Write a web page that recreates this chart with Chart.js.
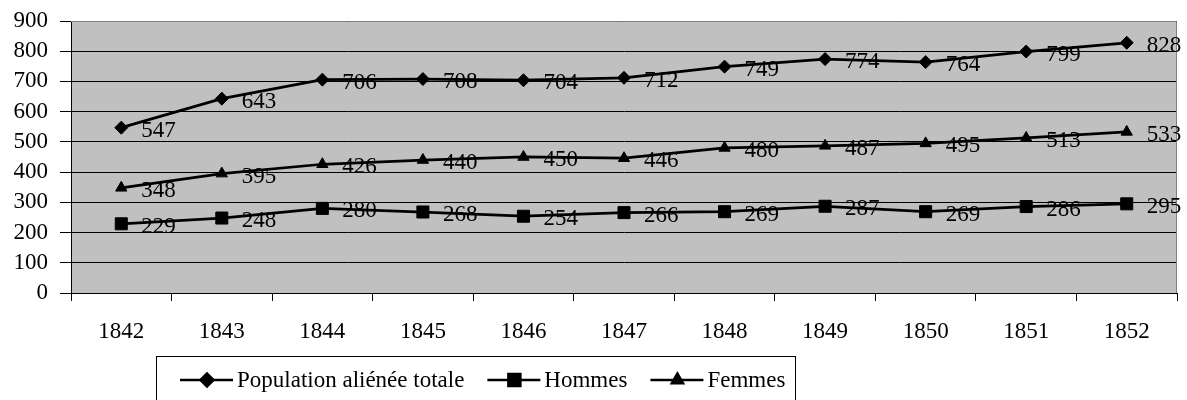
<!DOCTYPE html>
<html>
<head>
<meta charset="utf-8">
<script src="https://cdn.jsdelivr.net/npm/chart.js"></script>
<style>
html, body { margin: 0; padding: 0; background: #fff; }
canvas { display: block; }
</style>
</head>
<body>
<canvas id="myChart" width="1187" height="400"></canvas>
<script>
// data
var years = ['1842', '1843', '1844', '1845', '1846', '1847', '1848', '1849', '1850', '1851', '1852'];
var totale = [547, 643, 706, 708, 704, 712, 749, 774, 764, 799, 828];
var hommes = [229, 248, 280, 268, 254, 266, 269, 287, 269, 286, 295];
var femmes = [348, 395, 426, 440, 450, 446, 480, 487, 495, 513, 533];
var yTicks = [0, 100, 200, 300, 400, 500, 600, 700, 800, 900];

var FONT = '"Liberation Serif", "Times New Roman", serif';
var FSIZE = 23;

// gray plot area + gray top/right frame
var plotBg = {
    id: 'plotBg',
    beforeDraw: function (chart) {
        var a = chart.chartArea, ctx = chart.ctx;
        ctx.save();
        ctx.fillStyle = '#c0c0c0';
        ctx.fillRect(a.left, a.top, a.right - a.left, a.bottom - a.top);
        ctx.restore();
    },
    beforeDatasetsDraw: function (chart) {
        var a = chart.chartArea, ctx = chart.ctx;
        ctx.save();
        ctx.strokeStyle = '#808080';
        ctx.lineWidth = 1;
        ctx.beginPath();
        ctx.moveTo(a.left, a.top + 0.5);
        ctx.lineTo(a.right - 0.5, a.top + 0.5);
        ctx.lineTo(a.right - 0.5, a.bottom);
        ctx.stroke();
        ctx.restore();
    }
};

// value labels to the right of each point
var valueLabels = {
    id: 'valueLabels',
    afterDatasetsDraw: function (chart) {
        var ctx = chart.ctx;
        ctx.save();
        ctx.font = FSIZE + 'px ' + FONT;
        ctx.fillStyle = '#000';
        ctx.textBaseline = 'middle';
        ctx.textAlign = 'left';
        chart.data.datasets.forEach(function (ds, i) {
            chart.getDatasetMeta(i).data.forEach(function (pt, j) {
                ctx.fillText(String(ds.data[j]), pt.x + 20, pt.y + 3);
            });
        });
        ctx.restore();
    }
};

// boxed legend at the bottom, line + marker + text
var boxLegend = {
    id: 'boxLegend',
    afterDraw: function (chart) {
        var ctx = chart.ctx;
        ctx.save();
        ctx.strokeStyle = '#000';
        ctx.lineWidth = 1;
        ctx.strokeRect(156.5, 356.5, 639, 60);
        ctx.font = FSIZE + 'px ' + FONT;
        ctx.textBaseline = 'middle';
        ctx.fillStyle = '#000';
        var x = 180, y = 380;
        chart.data.datasets.forEach(function (ds) {
            ctx.lineWidth = 2.5;
            ctx.beginPath();
            ctx.moveTo(x, y);
            ctx.lineTo(x + 53, y);
            ctx.stroke();
            Chart.helpers.drawPoint(ctx, {
                pointStyle: ds.pointStyle,
                radius: ds.pointRadius,
                borderWidth: 1
            }, x + 27, y);
            ctx.fillText(ds.label, x + 57, y + 1);
            x += 57 + ctx.measureText(ds.label).width + 23;
        });
        ctx.restore();
    }
};

var ctx = document.getElementById('myChart').getContext('2d');
var chart = new Chart(ctx, {
    type: 'line',
    data: {
        labels: years,
        datasets: [{
            label: 'Population aliénée totale',
            data: totale,
            borderColor: '#000',
            backgroundColor: '#000',
            borderWidth: 2.75,
            pointStyle: 'rectRot',
            pointRadius: 6.5,
            pointBorderWidth: 1
        }, {
            label: 'Hommes',
            data: hommes,
            borderColor: '#000',
            backgroundColor: '#000',
            borderWidth: 2.75,
            pointStyle: 'rect',
            pointRadius: 8.5,
            pointBorderWidth: 1
        }, {
            label: 'Femmes',
            data: femmes,
            borderColor: '#000',
            backgroundColor: '#000',
            borderWidth: 2.75,
            pointStyle: 'triangle',
            pointRadius: 6.5,
            pointBorderWidth: 1
        }]
    },
    options: {
        responsive: false,
        animation: false,
        events: [],
        layout: { padding: { top: 21, right: 10, left: 0, bottom: 0 } },
        plugins: {
            legend: { display: false },
            tooltip: { enabled: false }
        },
        scales: {
            x: {
                offset: true,
                afterFit: function (s) {
                    s.height = 107;
                    s.paddingLeft = 0;
                    s.paddingRight = 0;
                },
                grid: {
                    offset: true,
                    drawOnChartArea: false,
                    drawTicks: true,
                    tickLength: 8,
                    color: '#000'
                },
                border: { color: '#000', width: 1 },
                ticks: {
                    color: '#000',
                    padding: 17,
                    maxRotation: 0,
                    autoSkip: false,
                    font: { family: FONT, size: FSIZE }
                }
            },
            y: {
                min: 0,
                max: 900,
                afterFit: function (s) {
                    s.width = 71;
                    s.paddingTop = 0;
                    s.paddingBottom = 0;
                },
                afterBuildTicks: function (s) {
                    s.ticks = yTicks.map(function (v) { return { value: v }; });
                },
                grid: {
                    color: '#000',
                    tickLength: 11,
                    lineWidth: 1
                },
                border: { color: '#000', width: 1 },
                ticks: {
                    color: '#000',
                    padding: 12,
                    autoSkip: false,
                    font: { family: FONT, size: FSIZE }
                }
            }
        }
    },
    plugins: [plotBg, valueLabels, boxLegend]
});
</script>
</body>
</html>
